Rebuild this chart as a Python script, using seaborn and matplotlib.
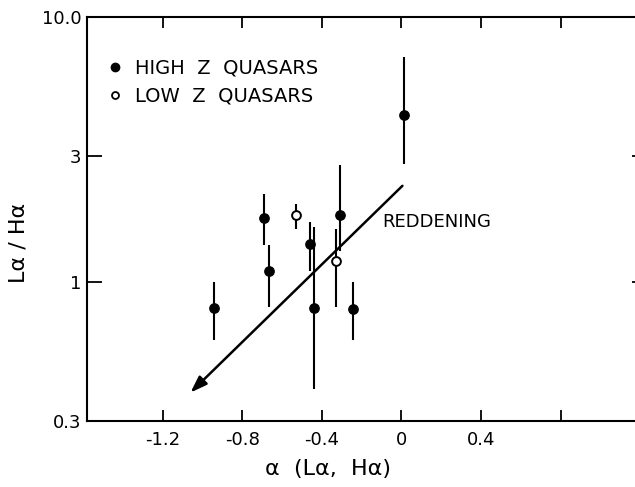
import seaborn as sns
import pandas as pd
import matplotlib.pyplot as plt
from matplotlib.lines import Line2D

# datos
alpha = [-0.94, -0.69, -0.663, -0.53, -0.46, -0.44, -0.33, -0.31, -0.245, 0.015]
ratio = [0.80, 1.75, 1.10, 1.80, 1.40, 0.80, 1.20, 1.80, 0.79, 4.26]
err_low = [0.607, 1.38, 0.81, 1.59, 1.10, 0.397, 0.81, 1.31, 0.607, 2.79]
err_high = [1.00, 2.15, 1.38, 1.98, 1.69, 1.61, 1.59, 2.77, 1.00, 7.08]
grupo = ["high", "high", "high", "low", "high", "high", "low", "high", "high", "high"]

# flecha de enrojecimiento
red_start = [0.005, 2.31]
red_end = [-1.06, 0.384]
red_text = [-0.095, 1.69]

xticks = [-1.2, -0.8, -0.4, 0, 0.4, 0.8]
xticklabels = ["-1.2", "-0.8", "-0.4", "0", "0.4", ""]
yticks = [0.3, 1, 3, 10]
yticklabels = ["0.3", "1", "3", "10.0"]

df = pd.DataFrame({"alpha": alpha, "ratio": ratio, "lo": err_low, "hi": err_high, "grupo": grupo})

sns.set_style("ticks")
plt.rcParams["font.family"] = ["DejaVu Sans"]
for k in ["text.color", "axes.labelcolor", "xtick.color", "ytick.color", "axes.edgecolor"]:
    plt.rcParams[k] = "black"

fig = plt.figure(figsize=(6.35, 4.87), dpi=100)
ax = fig.add_axes([87 / 635, 66 / 487, 560 / 635, 404 / 487])

# barras de error
ax.vlines(df["alpha"], df["lo"], df["hi"], color="black", lw=1.5, zorder=2)

sns.scatterplot(data=df[df["grupo"] == "high"], x="alpha", y="ratio", ax=ax,
                color="black", edgecolor="black", s=45, linewidth=1, zorder=3)
sns.scatterplot(data=df[df["grupo"] == "low"], x="alpha", y="ratio", ax=ax,
                color="white", edgecolor="black", s=40, linewidth=1.4, zorder=3)

ax.annotate("", xy=red_end, xytext=red_start,
            arrowprops=dict(arrowstyle="-|>,head_length=1.0,head_width=0.35",
                            color="black", lw=1.8, shrinkA=0, shrinkB=0))
ax.text(red_text[0], red_text[1], "REDDENING", fontsize=13, ha="left", va="center")

ax.set_yscale("log")
ax.set_xlim(-1.58, 1.234)
ax.set_ylim(0.3, 10)
ax.set_xticks(xticks)
ax.set_xticklabels(xticklabels)
ax.set_yticks(yticks)
ax.set_yticklabels(yticklabels)
ax.minorticks_off()

for s in ax.spines.values():
    s.set_linewidth(1.5)
ax.tick_params(axis="x", direction="in", length=8, width=1.3, top=True, labelsize=13, pad=7)
ax.tick_params(axis="y", direction="in", length=11, width=1.3, right=True, labelsize=13, pad=4)

ax.set_xlabel("α  (Lα,  Hα)", fontsize=16)
ax.set_ylabel("Lα / Hα", fontsize=16)
ax.xaxis.set_label_coords(0.43, -0.095)
ax.yaxis.set_label_coords(-0.105, 0.44)

handles = [
    Line2D([], [], ls="none", marker="o", ms=6, mfc="black", mec="black"),
    Line2D([], [], ls="none", marker="o", ms=5, mfc="white", mec="black", mew=1.3),
]
ax.legend(handles, ["HIGH  Z  QUASARS", "LOW  Z  QUASARS"], loc="upper left",
          frameon=False, fontsize=14, handlelength=0.8, handletextpad=0.6,
          labelspacing=0.45, bbox_to_anchor=(0.005, 0.94))

fig.savefig("out.png", dpi=100)
